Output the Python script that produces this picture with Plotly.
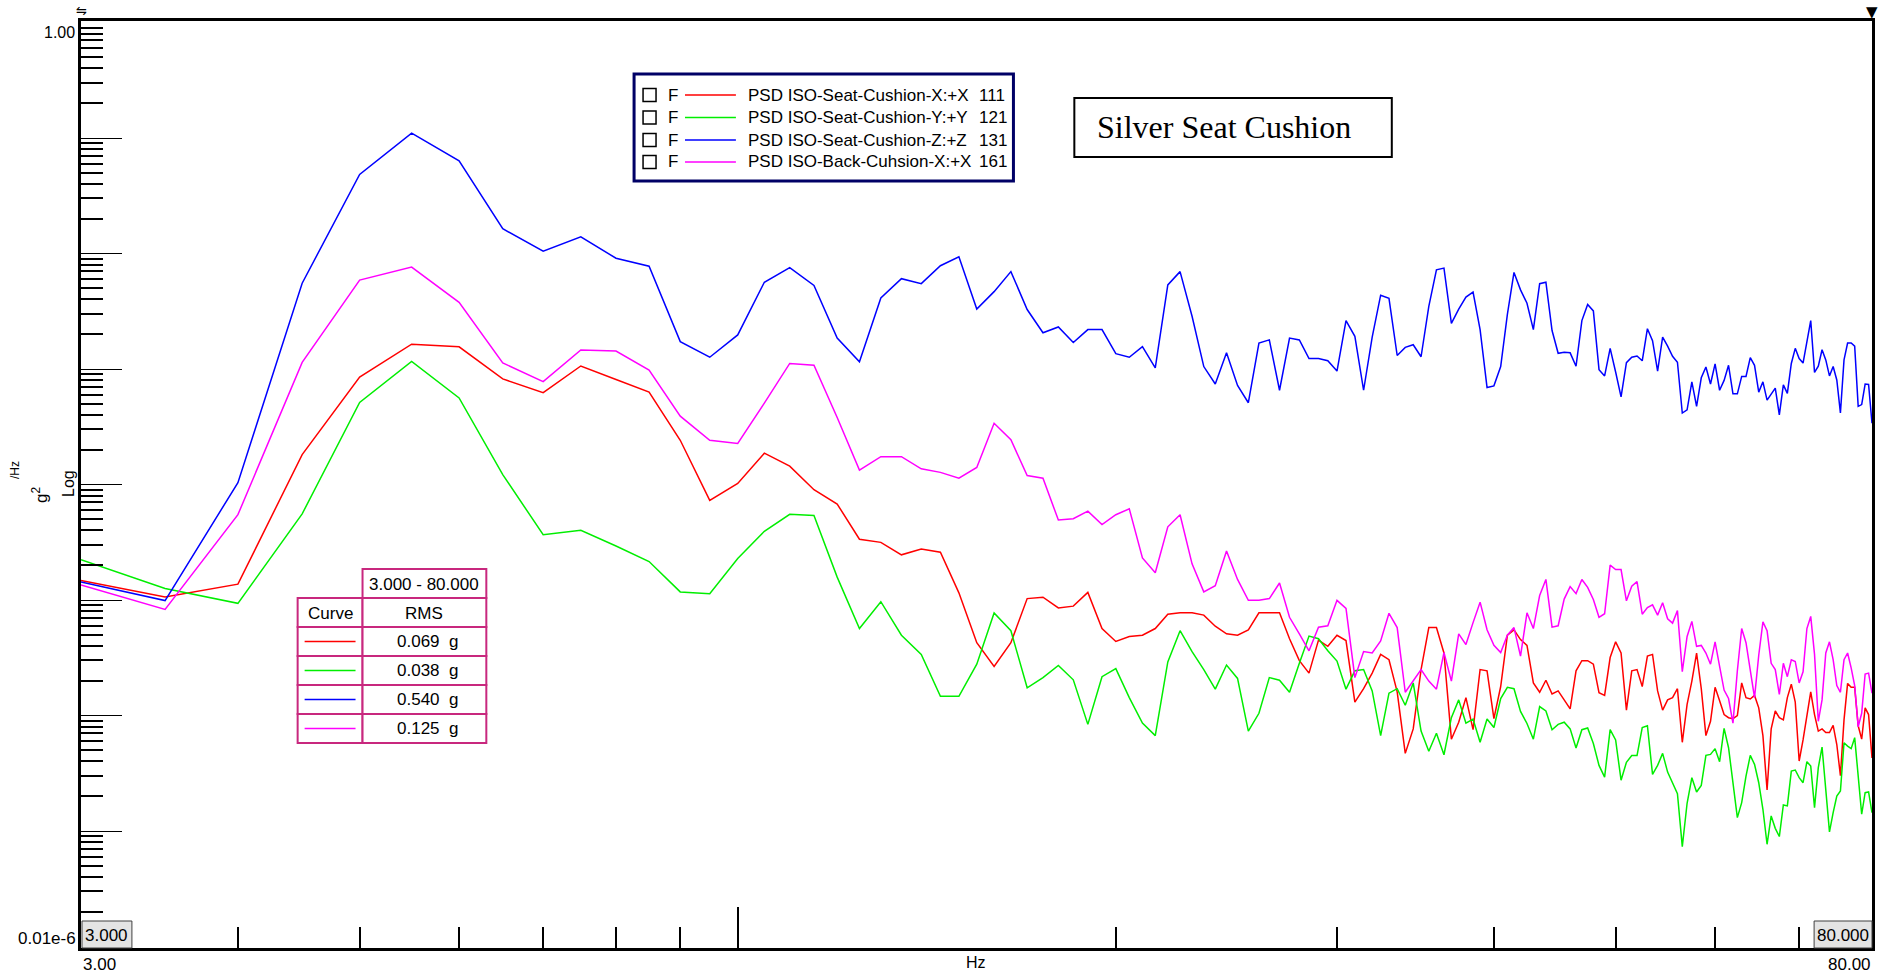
import math
import plotly.graph_objects as go

# ---------------- data (PSD, values stored as log10 of g^2/Hz) ----------------
freq_hz = [
    3.0, 3.5, 4.0, 4.5, 5.0, 5.5, 6.0, 6.5, 7.0, 7.5,
    8.0, 8.5, 9.0, 9.5, 10.0, 10.5, 11.0, 11.5, 12.0, 12.5,
    13.0, 13.5, 14.0, 14.5, 15.0, 15.5, 16.0, 16.5, 17.0, 17.5,
    18.0, 18.5, 19.0, 19.5, 20.0, 20.5, 21.0, 21.5, 22.0, 22.5,
    23.0, 23.5, 24.0, 24.5, 25.0, 25.5, 26.0, 26.5, 27.0, 27.5,
    28.0, 28.5, 29.0, 29.5, 30.0, 30.5, 31.0, 31.5, 32.0, 32.5,
    33.0, 33.5, 34.0, 34.5, 35.0, 35.5, 36.0, 36.5, 37.0, 37.5,
    38.0, 38.5, 39.0, 39.5, 40.0, 40.5, 41.0, 41.5, 42.0, 42.5,
    43.0, 43.5, 44.0, 44.5, 45.0, 45.5, 46.0, 46.5, 47.0, 47.5,
    48.0, 48.5, 49.0, 49.5, 50.0, 50.5, 51.0, 51.5, 52.0, 52.5,
    53.0, 53.5, 54.0, 54.5, 55.0, 55.5, 56.0, 56.5, 57.0, 57.5,
    58.0, 58.5, 59.0, 59.5, 60.0, 60.5, 61.0, 61.5, 62.0, 62.5,
    63.0, 63.5, 64.0, 64.5, 65.0, 65.5, 66.0, 66.5, 67.0, 67.5,
    68.0, 68.5, 69.0, 69.5, 70.0, 70.5, 71.0, 71.5, 72.0, 72.5,
    73.0, 73.5, 74.0, 74.5, 75.0, 75.5, 76.0, 76.5, 77.0, 77.5,
    78.0, 78.5, 79.0, 79.5, 80.0,
]

seat_x_log = [
    -4.832, -4.975, -4.863, -3.741, -3.070, -2.785, -2.808, -3.086, -3.205, -2.974,
    -3.091, -3.200, -3.617, -4.138, -3.991, -3.729, -3.841, -4.045, -4.169, -4.474,
    -4.501, -4.609, -4.559, -4.586, -4.938, -5.370, -5.575, -5.370, -4.988, -4.976,
    -5.069, -5.053, -4.934, -5.247, -5.359, -5.316, -5.305, -5.247, -5.123, -5.111,
    -5.111, -5.131, -5.227, -5.293, -5.305, -5.258, -5.111, -5.111, -5.111, -5.335,
    -5.525, -5.633, -5.347, -5.401, -5.305, -5.351, -5.884, -5.768, -5.633, -5.471,
    -5.517, -5.795, -6.328, -6.116, -5.602, -5.239, -5.239, -5.459, -6.205, -6.058,
    -5.845, -6.123, -5.602, -5.613, -6.027, -5.749, -5.305, -5.258, -5.343, -5.393,
    -5.718, -5.799, -5.695, -5.814, -5.787, -5.865, -5.942, -5.613, -5.525, -5.525,
    -5.556, -5.803, -5.826, -5.498, -5.362, -5.459, -5.953, -5.613, -5.602, -5.749,
    -5.486, -5.471, -5.787, -5.953, -5.865, -5.845, -5.768, -6.232, -5.903, -5.702,
    -5.459, -5.768, -6.174, -6.050, -5.756, -5.872, -5.992, -6.019, -6.027, -6.000,
    -5.718, -5.845, -5.857, -5.826, -5.934, -6.174, -6.645, -6.116, -5.961, -6.019,
    -6.038, -5.845, -5.729, -5.884, -6.394, -6.212, -6.019, -5.795, -5.992, -6.135,
    -6.116, -6.147, -6.147, -6.085, -6.251, -6.521, -6.038, -5.722, -5.756, -5.756,
    -6.089, -6.205, -5.934, -5.992, -6.367,
]

seat_y_log = [
    -4.651, -4.901, -5.029, -4.254, -3.290, -2.935, -3.251, -3.914, -4.435, -4.396,
    -4.532, -4.667, -4.930, -4.945, -4.640, -4.405, -4.258, -4.269, -4.802, -5.247,
    -5.015, -5.305, -5.471, -5.834, -5.834, -5.556, -5.112, -5.266, -5.760, -5.672,
    -5.567, -5.691, -6.077, -5.664, -5.594, -5.845, -6.066, -6.174, -5.536, -5.266,
    -5.447, -5.602, -5.772, -5.563, -5.679, -6.135, -5.981, -5.672, -5.695, -5.799,
    -5.548, -5.312, -5.335, -5.440, -5.529, -5.772, -5.613, -5.602, -5.787, -6.174,
    -5.807, -5.768, -5.911, -5.718, -6.135, -6.309, -6.154, -6.340, -6.019, -5.865,
    -6.066, -6.031, -6.232, -6.031, -6.104, -5.853, -5.756, -5.768, -5.965, -6.069,
    -6.205, -5.923, -5.961, -6.123, -6.077, -6.058, -6.116, -6.282, -6.123, -6.108,
    -6.243, -6.432, -6.533, -6.123, -6.212, -6.560, -6.405, -6.347, -6.347, -6.104,
    -6.089, -6.510, -6.432, -6.328, -6.490, -6.579, -6.677, -7.135, -6.760, -6.538,
    -6.662, -6.605, -6.345, -6.337, -6.287, -6.400, -6.112, -6.279, -6.582, -6.884,
    -6.754, -6.524, -6.345, -6.423, -6.582, -6.812, -7.115, -6.870, -6.977, -7.048,
    -6.775, -6.783, -6.481, -6.472, -6.538, -6.582, -6.400, -6.438, -6.798, -6.452,
    -6.273, -6.639, -7.008, -6.841, -6.697, -6.654, -6.236, -6.265, -6.287, -6.192,
    -6.524, -6.855, -6.668, -6.662, -6.841,
]

seat_z_log = [
    -4.843, -5.005, -3.984, -2.257, -1.316, -0.958, -1.197, -1.786, -1.979, -1.856,
    -2.041, -2.110, -2.763, -2.898, -2.705, -2.249, -2.122, -2.276, -2.732, -2.937,
    -2.385, -2.218, -2.261, -2.106, -2.029, -2.481, -2.330, -2.157, -2.485, -2.686,
    -2.636, -2.771, -2.659, -2.659, -2.867, -2.898, -2.806, -2.991, -2.272, -2.157,
    -2.543, -2.979, -3.130, -2.860, -3.142, -3.292, -2.775, -2.748, -3.184, -2.732,
    -2.748, -2.910, -2.910, -2.929, -3.018, -2.581, -2.717, -3.184, -2.724, -2.361,
    -2.388, -2.883, -2.813, -2.790, -2.894, -2.458, -2.141, -2.126, -2.605, -2.481,
    -2.377, -2.334, -2.659, -3.161, -3.146, -2.979, -2.527, -2.164, -2.315, -2.431,
    -2.659, -2.261, -2.249, -2.667, -2.864, -2.856, -2.860, -2.976, -2.581, -2.442,
    -2.497, -3.006, -3.060, -2.821, -3.026, -3.242, -2.945, -2.898, -2.887, -2.929,
    -2.651, -2.755, -3.018, -2.724, -2.802, -2.890, -2.941, -3.381, -3.354, -3.111,
    -3.323, -3.076, -2.983, -3.130, -2.956, -3.184, -3.099, -2.968, -3.215, -3.215,
    -3.064, -3.064, -2.902, -2.968, -3.200, -3.111, -3.269, -3.219, -3.165, -3.397,
    -3.138, -3.211, -2.952, -2.821, -2.910, -2.949, -2.763, -2.581, -3.030, -2.976,
    -2.833, -2.921, -3.060, -2.979, -3.095, -3.381, -2.921, -2.775, -2.775, -2.802,
    -3.323, -3.308, -3.130, -3.134, -3.470,
]

back_x_log = [
    -4.870, -5.082, -4.261, -2.943, -2.230, -2.118, -2.423, -2.947, -3.109, -2.835,
    -2.844, -3.010, -3.408, -3.617, -3.644, -3.296, -2.952, -2.968, -3.420, -3.875,
    -3.759, -3.759, -3.864, -3.895, -3.945, -3.852, -3.470, -3.613, -3.922, -3.945,
    -4.308, -4.296, -4.231, -4.347, -4.262, -4.211, -4.636, -4.764, -4.366, -4.262,
    -4.687, -4.930, -4.876, -4.575, -4.822, -5.003, -5.003, -4.988, -4.853, -5.150,
    -5.293, -5.440, -5.235, -5.223, -5.003, -5.073, -5.672, -5.447, -5.459, -5.355,
    -5.115, -5.239, -5.799, -5.702, -5.602, -5.702, -5.772, -5.455, -5.702, -5.293,
    -5.386, -5.196, -5.019, -5.258, -5.393, -5.455, -5.305, -5.239, -5.486, -5.111,
    -5.247, -4.961, -4.822, -5.235, -5.223, -4.992, -4.884, -4.945, -4.822, -4.891,
    -4.996, -5.150, -5.119, -4.698, -4.737, -4.737, -5.007, -4.880, -4.841, -5.123,
    -5.065, -5.042, -5.131, -5.023, -5.162, -5.200, -5.092, -5.621, -5.316, -5.185,
    -5.401, -5.393, -5.459, -5.556, -5.362, -5.575, -5.780, -5.853, -6.066, -5.613,
    -5.247, -5.370, -5.621, -5.845, -5.478, -5.189, -5.266, -5.548, -5.602, -5.818,
    -5.548, -5.664, -5.517, -5.532, -5.718, -5.621, -5.247, -5.142, -5.471, -6.050,
    -5.865, -5.459, -5.362, -5.517, -5.741, -5.799, -5.517, -5.459, -5.587, -5.741,
    -6.097, -5.981, -5.641, -5.633, -5.807,
]

series_names = [
    "PSD ISO-Seat-Cushion-X:+X",
    "PSD ISO-Seat-Cushion-Y:+Y",
    "PSD ISO-Seat-Cushion-Z:+Z",
    "PSD ISO-Back-Cuhsion-X:+X",
]
series_ids = ["111", "121", "131", "161"]
series_colors = ["#ff0000", "#00ee00", "#0000ff", "#ff00ff"]
series_logs = [seat_x_log, seat_y_log, seat_z_log, back_x_log]
rms_values = ["0.069", "0.038", "0.540", "0.125"]
rms_band = "3.000 - 80.000"
title_text = "Silver Seat Cushion"

x_min, x_max = 3.0, 80.0
y_min_log, y_max_log = -8.013, 0.013

# ---------------- layout helpers (pixel -> paper for decorations) ----------------
W, H = 1886, 975
L, R, T, B = 81, 1875, 21, 948


def px(x):
    return (x - L) / (R - L)


def py(y):
    return (B - y) / (B - T)


SANS = "Liberation Sans, Arial, sans-serif"
SERIF = "Liberation Serif, Times New Roman, serif"

fig = go.Figure()
for name, vals, color in zip(series_names, series_logs, series_colors):
    fig.add_trace(go.Scatter(
        x=freq_hz, y=[10 ** v for v in vals], mode="lines", name=name,
        line=dict(color=color, width=1.5), hoverinfo="x+y+name",
    ))

y_major = [10.0 ** n for n in range(-7, 0)]
y_minor = [k * 10.0 ** n for n in range(-8, 0) for k in range(2, 10)]

fig.update_layout(
    width=W, height=H,
    margin=dict(l=L, r=W - R, t=T, b=H - B, pad=0),
    paper_bgcolor="white", plot_bgcolor="white",
    showlegend=False,
    font=dict(family=SANS, color="black", size=16),
)
fig.update_xaxes(
    type="log", range=[math.log10(x_min), math.log10(x_max)],
    showline=True, linewidth=2.5, linecolor="black", mirror=True,
    showgrid=False, zeroline=False, showticklabels=False,
    ticks="inside", tickmode="array", tickvals=[10], ticklen=41,
    tickwidth=1.5, tickcolor="black",
    minor=dict(tickmode="array", tickvals=[4, 5, 6, 7, 8, 9, 20, 30, 40, 50, 60, 70],
               ticks="inside", ticklen=21, tickwidth=1.5, tickcolor="black", showgrid=False),
)
fig.update_yaxes(
    type="log", range=[y_min_log, y_max_log],
    showline=True, linewidth=2.5, linecolor="black", mirror=True,
    showgrid=False, zeroline=False, showticklabels=False,
    ticks="inside", tickmode="array", tickvals=y_major, ticklen=41,
    tickwidth=1, tickcolor="black",
    minor=dict(tickmode="array", tickvals=y_minor, ticks="inside", ticklen=22,
               tickwidth=2, tickcolor="black", showgrid=False),
)

shapes = []
ann = []


def rect(x0, y0, x1, y1, color, width, fill="white"):
    shapes.append(dict(type="rect", xref="paper", yref="paper",
                       x0=px(x0), x1=px(x1), y0=py(y1), y1=py(y0),
                       line=dict(color=color, width=width), fillcolor=fill, layer="above"))


def hline(x0, x1, y, color, width):
    shapes.append(dict(type="line", xref="paper", yref="paper",
                       x0=px(x0), x1=px(x1), y0=py(y), y1=py(y),
                       line=dict(color=color, width=width), layer="above"))


def text(x, y, s, size=16, xanchor="center", family=SANS, angle=0, yanchor="middle"):
    ann.append(dict(xref="paper", yref="paper", x=px(x), y=py(y), text=s,
                    showarrow=False, xanchor=xanchor, yanchor=yanchor, textangle=angle,
                    font=dict(family=family, size=size, color="black")))


# axis edge labels
text(77, 33, "1.00", 16, xanchor="right")
text(78, 938, "0.01e-6", 17, xanchor="right")
text(81, 964, "3.00", 17, xanchor="left")
text(1876, 964, "80.00", 17, xanchor="right")
text(977, 963, "Hz", 16)
text(68, 484, "Log", 16, angle=-90)
text(40, 495, "g<sup>2</sup>", 17, angle=-90)
text(15, 470, "/Hz", 12, angle=-90)
text(81, 11, "⇋", 13, family="DejaVu Sans")
text(1875, 12, "▼", 15, family="DejaVu Sans")

# range boxes at the bottom corners
rect(82, 921, 132, 948, "#404040", 1, fill="#e4e4e4")
text(107, 935, "3.000", 17)
rect(1817, 921, 1875, 948, "#404040", 1, fill="#e4e4e4")
text(1846, 935, "80.000", 17)

# curve legend box
rect(635, 74, 1015, 181, "#000066", 3)
row_y = [95, 117.5, 140, 162]
for yy, name, sid, color in zip(row_y, series_names, series_ids, series_colors):
    rect(644, yy - 6.5, 657, yy + 6.5, "black", 1.5)
    text(667, yy, "F", 17, xanchor="left")
    hline(686, 737, yy, color, 1.5)
    text(747, yy, name, 17, xanchor="left")
    text(978, yy, sid, 17, xanchor="left")

# title box
rect(1076, 98, 1394, 157, "black", 2)
text(1097, 127, title_text, 32, xanchor="left", family=SERIF)

# RMS table
TC = "#c8287e"
rect(363, 569, 487, 598, TC, 2)
text(425, 584, rms_band, 17)
for i in range(5):
    y0 = 598 + 29 * i
    rect(298, y0, 363, y0 + 29, TC, 2)
    rect(363, y0, 487, y0 + 29, TC, 2)
text(330.5, 613, "Curve", 17)
text(425, 613, "RMS", 17)
for i, (val, color) in enumerate(zip(rms_values, series_colors)):
    yc = 598 + 29 * (i + 1) + 14.5
    hline(305, 356, yc, color, 1.5)
    text(428, yc, val + "\u00a0\u00a0g", 17)

fig.update_layout(shapes=shapes, annotations=ann)
fig.write_html("out.html", config={"displayModeBar": False})
